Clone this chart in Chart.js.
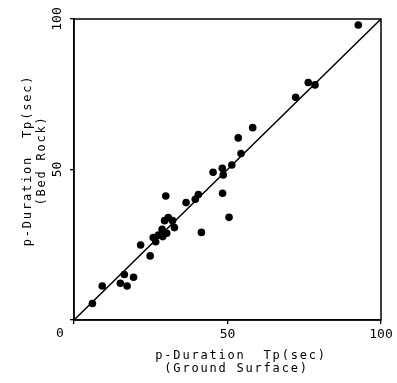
<!DOCTYPE html>
<html><head><meta charset="utf-8">
<script src="https://cdn.jsdelivr.net/npm/chart.js@4/dist/chart.umd.min.js"></script>
<style>html,body{margin:0;padding:0;background:#fff;overflow:hidden}#wrap{width:397px;height:383px}</style>
</head><body><div id="wrap"><canvas id="c" width="397" height="383"></canvas></div>
<script>
// Tp at ground surface (x) vs Tp at bed rock (y), seconds
const groundSurface = [92.6, 76.3, 78.5, 72.2, 58.2, 53.5, 54.4, 51.4, 48.3, 48.6, 45.3, 48.4, 50.5, 40.5, 39.5, 36.5, 29.9, 41.5, 29.5, 30.7, 32.1, 32.7, 30.2, 28.7, 28.9, 27.5, 25.8, 26.6, 21.7, 24.8, 16.4, 19.4, 15.1, 17.3, 9.2, 6.0];
const bedRock      = [98.0, 78.9, 78.1, 74.0, 63.9, 60.5, 55.3, 51.5, 50.4, 48.2, 49.1, 42.1, 34.1, 41.7, 40.1, 39.0, 41.2, 29.1, 33.0, 34.0, 33.0, 30.7, 28.8, 30.1, 27.7, 28.2, 27.4, 26.0, 24.9, 21.3, 15.1, 14.2, 12.2, 11.3, 11.3, 5.5];
const lineX = [0, 100];
const lineY = [0, 100];
const tickValues = [0, 50, 100];
const originLabel = '0';
const xTitle = ['   p-Duration  Tp(sec)', '  (Ground Surface)'];
const yTitle = ['  p-Duration  Tp(sec)', '  (Bed Rock)'];

const monoFont = 'DejaVu Sans Mono';
const tickFont = {family: monoFont, size: 13};

const framePlugin = {
  id: 'frame',
  beforeDraw(chart) {
    const ctx = chart.ctx;
    ctx.save(); ctx.fillStyle = '#fff'; ctx.fillRect(0, 0, chart.width, chart.height); ctx.restore();
    ctx.letterSpacing = '1.8px';
  },
  beforeDatasetsDraw(chart) {
    const {ctx, chartArea: a} = chart;
    ctx.letterSpacing = '0px';
    ctx.save();
    ctx.strokeStyle = '#000'; ctx.lineWidth = 1.5;
    ctx.strokeRect(a.left, a.top, a.right - a.left, a.bottom - a.top);
    ctx.restore();
  },
  afterDraw(chart) {
    const ctx = chart.ctx;
    const xs = chart.scales.x, ys = chart.scales.y;
    ctx.save();
    ctx.letterSpacing = '0px';
    ctx.font = '13px "' + monoFont + '"';
    ctx.fillStyle = '#000'; ctx.textAlign = 'center'; ctx.textBaseline = 'middle';
    ctx.fillText(originLabel, xs.getPixelForValue(0) - 14, ys.getPixelForValue(0) + 14);
    ctx.restore();
  }
};

const axisCommon = (title, titleFont, titlePad) => ({
  type: 'linear', min: 0, max: 100,
  afterBuildTicks: s => { s.ticks = tickValues.map(v => ({value: v})); },
  grid: {display: true, drawOnChartArea: false, drawTicks: true, tickLength: 4, color: '#000', lineWidth: 1.3},
  border: {display: true, color: '#000', width: 1.5},
  title: {display: true, text: title, color: '#000', font: titleFont, padding: titlePad}
});

const xAxis = Object.assign(axisCommon(xTitle, {family: monoFont, size: 12, lineHeight: 13.5/12}, {top: 0, bottom: 7.25}), {
  ticks: {callback: v => v === 0 ? '' : String(v), font: tickFont, color: '#000', padding: 3, maxRotation: 0, minRotation: 0, autoSkip: false, z: 1},
  afterFit: s => { s.height = 63; s.paddingLeft = 0; s.paddingRight = 0; }
});
const yAxis = Object.assign(axisCommon(yTitle, {family: monoFont, size: 12, lineHeight: 14/12}, {top: 21, bottom: 0}), {
  ticks: {callback: v => v === 0 ? '' : String(v), font: tickFont, color: '#000', padding: 1, minRotation: 90, maxRotation: 90, crossAlign: 'center', autoSkip: false, z: 1},
  afterFit: s => { s.width = 74; s.paddingTop = 0; s.paddingBottom = 0; }
});

new Chart(document.getElementById('c'), {
  type: 'scatter',
  data: {
    datasets: [
      {data: groundSurface.map((x, i) => ({x, y: bedRock[i]})), backgroundColor: '#000', borderColor: '#000', pointRadius: 3.8, pointHoverRadius: 3.8, borderWidth: 0},
      {type: 'line', data: lineX.map((x, i) => ({x, y: lineY[i]})), borderColor: '#000', borderWidth: 1.5, pointRadius: 0, fill: false, tension: 0}
    ]
  },
  options: {
    responsive: false, animation: false, events: [],
    layout: {padding: {top: 19, right: 16, left: 0, bottom: 0}},
    plugins: {legend: {display: false}, tooltip: {enabled: false}},
    scales: {x: xAxis, y: yAxis}
  },
  plugins: [framePlugin]
});
</script></body></html>
